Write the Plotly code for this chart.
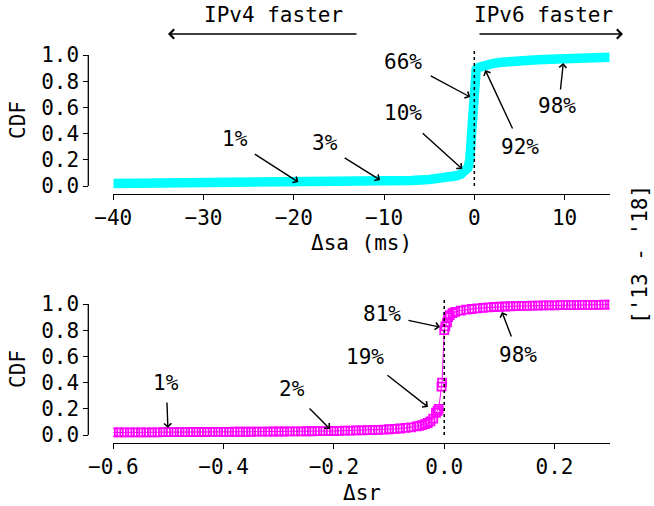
import plotly.graph_objects as go

# ---------------- data ----------------
sa_x = [-40, -35, -30, -25, -20, -15, -10, -7, -5, -4, -3, -2, -1.5, -1, -0.7, -0.5,
        -0.4, -0.3, -0.2, -0.1, 0, 0.2, 0.5, 1, 1.5, 2, 3, 4, 5, 7, 10, 12, 15]
sa_cdf = [0.020, 0.021, 0.022, 0.024, 0.026, 0.030, 0.036, 0.042, 0.050, 0.056, 0.064,
          0.078, 0.090, 0.110, 0.140, 0.200, 0.300, 0.450, 0.620, 0.780, 0.860, 0.890,
          0.905, 0.918, 0.927, 0.934, 0.944, 0.952, 0.957, 0.964, 0.972, 0.976, 0.982]

sr_x = [-0.60, -0.59, -0.58, -0.57, -0.56, -0.55, -0.54, -0.53, -0.52, -0.51,
        -0.50, -0.49, -0.48, -0.47, -0.46, -0.45, -0.44, -0.43, -0.42, -0.41,
        -0.40, -0.39, -0.38, -0.37, -0.36, -0.35, -0.34, -0.33, -0.32, -0.31,
        -0.30, -0.29, -0.28, -0.27, -0.26, -0.25, -0.24, -0.23, -0.22, -0.21,
        -0.20, -0.19, -0.18, -0.17, -0.16, -0.15, -0.14, -0.13, -0.12, -0.11,
        -0.10, -0.09, -0.08, -0.07, -0.06, -0.05, -0.045, -0.04, -0.035, -0.03,
        -0.025, -0.02, -0.015, -0.012, -0.01, -0.005, -0.004, 0.0, 0.002, 0.005,
        0.007, 0.01, 0.015, 0.02,
        0.03, 0.04, 0.05, 0.06, 0.07, 0.08, 0.09, 0.10, 0.11, 0.12,
        0.13, 0.14, 0.15, 0.16, 0.17, 0.18, 0.19, 0.20, 0.21, 0.22,
        0.23, 0.24, 0.25, 0.26, 0.27, 0.28, 0.29, 0.30]
sr_cdf = [0.020, 0.020, 0.020, 0.020, 0.021, 0.021, 0.021, 0.021, 0.021, 0.022,
          0.022, 0.022, 0.022, 0.022, 0.023, 0.023, 0.023, 0.023, 0.024, 0.024,
          0.024, 0.024, 0.025, 0.025, 0.025, 0.025, 0.026, 0.026, 0.026, 0.027,
          0.027, 0.027, 0.028, 0.028, 0.028, 0.029, 0.029, 0.030, 0.030, 0.031,
          0.031, 0.032, 0.033, 0.034, 0.035, 0.036, 0.037, 0.038, 0.040, 0.042,
          0.044, 0.047, 0.050, 0.054, 0.059, 0.066, 0.070, 0.076, 0.083, 0.092,
          0.105, 0.125, 0.170, 0.185, 0.200, 0.370, 0.400, 0.800, 0.830, 0.860,
          0.900, 0.915, 0.930, 0.940,
          0.950, 0.957, 0.962, 0.967, 0.971, 0.974, 0.977, 0.979, 0.981, 0.983,
          0.984, 0.985, 0.986, 0.987, 0.988, 0.989, 0.990, 0.990, 0.991, 0.991,
          0.992, 0.992, 0.993, 0.993, 0.994, 0.994, 0.995, 0.995]

sa_ticks = [-40, -30, -20, -10, 0, 10]
sr_ticks = [-0.6, -0.4, -0.2, 0.0, 0.2]
cdf_ticks = [0.0, 0.2, 0.4, 0.6, 0.8, 1.0]

# annotations (label, arrow head in data units)
sa_labels = ["1%", "3%", "10%", "66%", "92%", "98%"]
sa_head_x = [-19.5, -10.43, -1.34, -0.45, 1.21, 9.86]
sa_head_y = [0.03, 0.046, 0.13, 0.679, 0.885, 0.939]
sr_labels = ["1%", "2%", "19%", "81%", "98%"]
sr_head_x = [-0.501, -0.207, -0.0295, -0.0078, 0.1046]
sr_head_y = [0.053, 0.046, 0.214, 0.824, 0.939]

# ---------------- layout helpers ----------------
W, H = 654, 506
FONT = "DejaVu Sans Mono"
FS = 21


def px(x):
    return x / W


def py(y):
    return 1 - y / H


sa_text_x = [-26.5, -16.53, -7.88, -7.88, 5.09, 9.19]
sa_text_y = [0.359, 0.328, 0.557, 0.947, 0.298, 0.611]
sa_tail = [(-45, -29), (-37, -23), (-41, -37), (-41, -22), (28, 60), (-3, 28)]
sr_text_x = [-0.504, -0.276, -0.144, -0.113, 0.1335]
sr_text_y = [0.397, 0.351, 0.595, 0.924, 0.611]
sr_tail = [(-1, -27), (-22, -22), (-42, -33), (-33, -7), (10, 26)]

fig = go.Figure()
fig.add_trace(go.Scatter(x=sa_x, y=sa_cdf, mode="lines",
                         line=dict(color="#00FFFF", width=9.5),
                         xaxis="x", yaxis="y", showlegend=False))
fig.add_trace(go.Scatter(x=sr_x, y=sr_cdf, mode="lines+markers",
                         line=dict(color="#FF00FF", width=1),
                         marker=dict(symbol="square-open", size=8, color="#FF00FF",
                                     line=dict(width=1.8, color="#FF00FF")),
                         xaxis="x2", yaxis="y2", showlegend=False))

xdom = [px(113.3), px(609.7)]
ypos = px(88.3)
axfont = dict(family=FONT, size=FS, color="black")
common_x = dict(showline=True, linecolor="black", linewidth=1.3, ticks="outside",
                ticklen=5, tickwidth=1.3, tickcolor="black", showgrid=False,
                zeroline=False, tickfont=axfont, domain=xdom, automargin=False)
common_y = dict(showline=False, ticks="outside", ticklen=5, tickwidth=1.3,
                tickcolor="black", showgrid=False, zeroline=False, tickfont=axfont,
                tickvals=cdf_ticks, tickformat=".1f", range=[-0.06, 1.05],
                anchor="free", position=ypos, automargin=False)

fig.update_layout(
    width=W, height=H, margin=dict(l=0, r=0, t=0, b=0, pad=0),
    paper_bgcolor="white", plot_bgcolor="white",
    font=dict(family=FONT, size=FS, color="black"),
    xaxis=dict(common_x, range=[-40, 15], tickvals=sa_ticks, anchor="y"),
    yaxis=dict(common_y, domain=[py(193.9), py(48.45)]),
    xaxis2=dict(common_x, range=[-0.6, 0.3], tickvals=sr_ticks, tickformat=".1f",
                anchor="y2"),
    yaxis2=dict(common_y, domain=[py(442.9), py(297.45)]),
)

shapes = []
for yr in ["y", "y2"]:
    shapes.append(dict(type="line", xref="paper", yref=yr, x0=ypos, x1=ypos,
                       y0=0, y1=1, line=dict(color="black", width=1.3)))
shapes.append(dict(type="line", xref="x", yref="y", x0=0, x1=0, y0=0, y1=1.05,
                   line=dict(color="black", width=1.5, dash="dot"), layer="above"))
shapes.append(dict(type="line", xref="x2", yref="y2", x0=0, x1=0, y0=0, y1=1.05,
                   line=dict(color="black", width=1.5, dash="dot"), layer="above"))
fig.update_layout(shapes=shapes)

ann = []


def text_ann(x, y, t, xref="paper", yref="paper", angle=0):
    ann.append(dict(x=x, y=y, xref=xref, yref=yref, text=t, showarrow=False,
                    font=axfont, textangle=angle, xanchor="center", yanchor="middle"))


def arrow_ann(x, y, dx, dy, xref, yref, size=1.0):
    ann.append(dict(x=x, y=y, xref=xref, yref=yref, text="", showarrow=True,
                    ax=dx, ay=dy, arrowhead=4, arrowsize=size, arrowwidth=1.4,
                    arrowcolor="black"))


for t, hx, hy, tx, ty, (dx, dy) in zip(sa_labels, sa_head_x, sa_head_y,
                                         sa_text_x, sa_text_y, sa_tail):
    text_ann(tx, ty, t, "x", "y")
    arrow_ann(hx, hy, dx, dy, "x", "y")
for t, hx, hy, tx, ty, (dx, dy) in zip(sr_labels, sr_head_x, sr_head_y,
                                         sr_text_x, sr_text_y, sr_tail):
    text_ann(tx, ty, t, "x2", "y2")
    arrow_ann(hx, hy, dx, dy, "x2", "y2")

text_ann(px(273), py(15), "IPv4 faster")
text_ann(px(543), py(15), "IPv6 faster")
arrow_ann(px(168), py(34), 190, 0, "paper", "paper", 1.3)
arrow_ann(px(623), py(34), -145, 0, "paper", "paper", 1.3)

text_ann(px(18), py(120), "CDF", angle=-90)
text_ann(px(18), py(369), "CDF", angle=-90)
text_ann(px(361), py(243), "Δsa (ms)")
text_ann(px(362), py(493), "Δsr")
text_ann(px(640), py(255), "['13 - '18]", angle=-90)

fig.update_layout(annotations=ann)
fig.write_html("out.html",
               config={"displayModeBar": False, "responsive": False},
               post_script="document.body.style.margin='0px';"
                           "document.body.style.overflow='hidden';")
